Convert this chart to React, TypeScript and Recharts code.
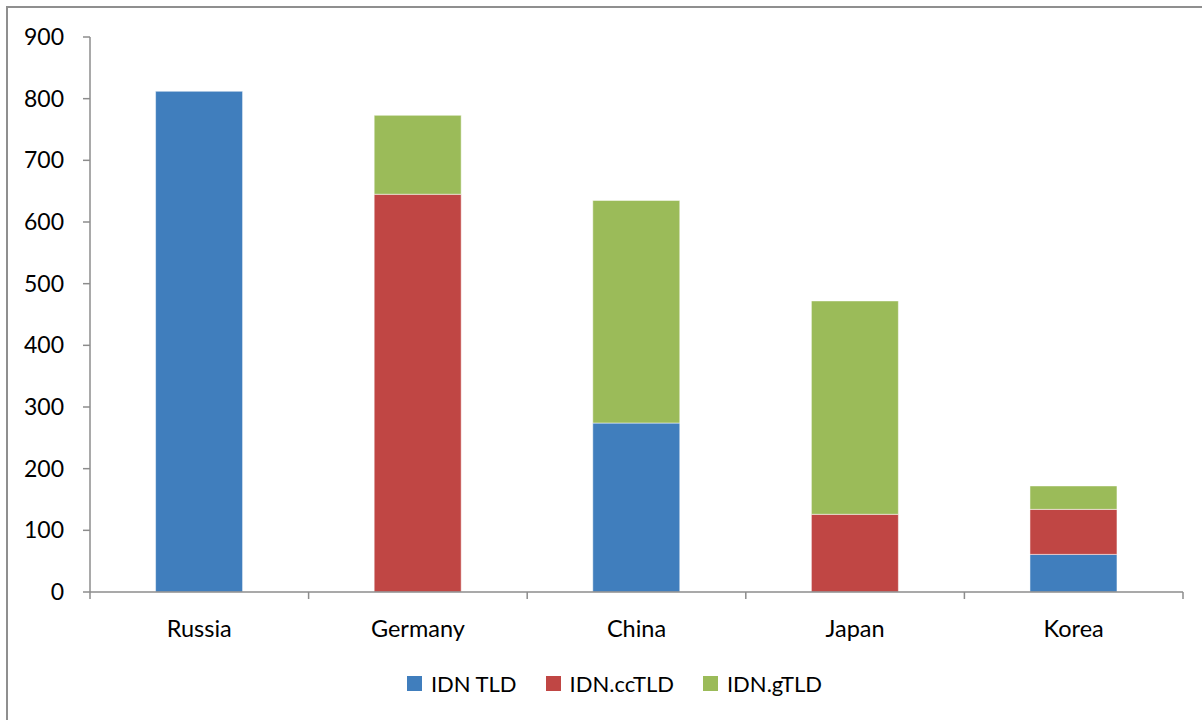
import React from "react";
import { BarChart, Bar, XAxis, YAxis, Legend } from "recharts";

// Registrations by country, split by TLD type
const countries = ["Russia", "Germany", "China", "Japan", "Korea"];
const idnTld = [812, 0, 274, 0, 61];
const idnCcTld = [0, 645, 0, 126, 73];
const idnGTld = [0, 128, 361, 346, 38];
const yTicks = [0, 100, 200, 300, 400, 500, 600, 700, 800, 900];

const series = [
  { key: "tld", name: "IDN TLD", color: "#407EBD", values: idnTld },
  { key: "cc", name: "IDN.ccTLD", color: "#C04644", values: idnCcTld },
  { key: "g", name: "IDN.gTLD", color: "#9BBB59", values: idnGTld },
];

const rows = countries.map((country, i) => {
  const row: Record<string, string | number> = { country };
  series.forEach((s) => {
    row[s.key] = s.values[i];
  });
  return row;
});

const FONT = "Lato, 'Open Sans', sans-serif";
const AXIS = "#8C8C8C";

const PLOT_LEFT = 90;
const PLOT_RIGHT = 1183;
const BAND = (PLOT_RIGHT - PLOT_LEFT) / countries.length;

// category label plus tick marks on the band edges
function CategoryTick(props: any) {
  const { x, y, payload, index } = props;
  const left = x - BAND / 2;
  const right = x + BAND / 2;
  return (
    <g>
      <line x1={left} y1={y - 8} x2={left} y2={y - 1} stroke={AXIS} strokeWidth={1.5} />
      {index === countries.length - 1 && (
        <line x1={right} y1={y - 8} x2={right} y2={y - 1} stroke={AXIS} strokeWidth={1.5} />
      )}
      <text
        x={x}
        y={y + 37}
        textAnchor="middle"
        fontFamily={FONT}
        fontSize={23.5}
        fill="#000"
      >
        {payload.value}
      </text>
    </g>
  );
}

function LegendContent() {
  return (
    <div
      style={{
        display: "flex",
        justifyContent: "center",
        gap: 29,
        fontFamily: FONT,
        fontSize: 22,
        color: "#000",
        paddingLeft: 46,
      }}
    >
      {series.map((s) => (
        <div key={s.key} style={{ display: "flex", alignItems: "center" }}>
          <span
            style={{
              display: "inline-block",
              width: 15,
              height: 15,
              background: s.color,
              marginRight: 9,
            }}
          />
          {s.name}
        </div>
      ))}
    </div>
  );
}

export default function App() {
  return (
    <div
      style={{
        position: "absolute",
        left: 0,
        top: 0,
        width: 1202,
        height: 720,
        overflow: "hidden",
        background: "#fff",
      }}
    >
      <div
        style={{
          position: "absolute",
          left: 6,
          top: 6,
          width: 1220,
          height: 740,
          border: "2px solid #8F8F8F",
          boxSizing: "border-box",
        }}
      />
      <BarChart
        width={1202}
        height={720}
        data={rows}
        margin={{ top: 37, right: 1202 - PLOT_RIGHT, left: 0, bottom: 0 }}
        barCategoryGap="30%"
        style={{ position: "absolute", left: 0, top: 0 }}
      >
        <XAxis
          dataKey="country"
          height={101}
          axisLine={{ stroke: AXIS, strokeWidth: 1.5 }}
          tickLine={false}
          tick={<CategoryTick />}
          interval={0}
        />
        <YAxis
          width={PLOT_LEFT}
          domain={[0, 900]}
          ticks={yTicks}
          interval={0}
          axisLine={{ stroke: AXIS, strokeWidth: 1.5 }}
          tickLine={{ stroke: AXIS, strokeWidth: 1.5 }}
          tickSize={7}
          tickMargin={19}
          tick={{ fontFamily: FONT, fontSize: 23, fill: "#000" }}
        />
        <Legend
          verticalAlign="bottom"
          content={<LegendContent />}
          wrapperStyle={{ bottom: 23 }}
        />
        {series.map((s) => (
          <Bar
            key={s.key}
            dataKey={s.key}
            name={s.name}
            stackId="total"
            fill={s.color}
            stroke="#fff"
            strokeOpacity={0.5}
            strokeWidth={1}
            isAnimationActive={false}
          />
        ))}
      </BarChart>
    </div>
  );
}
